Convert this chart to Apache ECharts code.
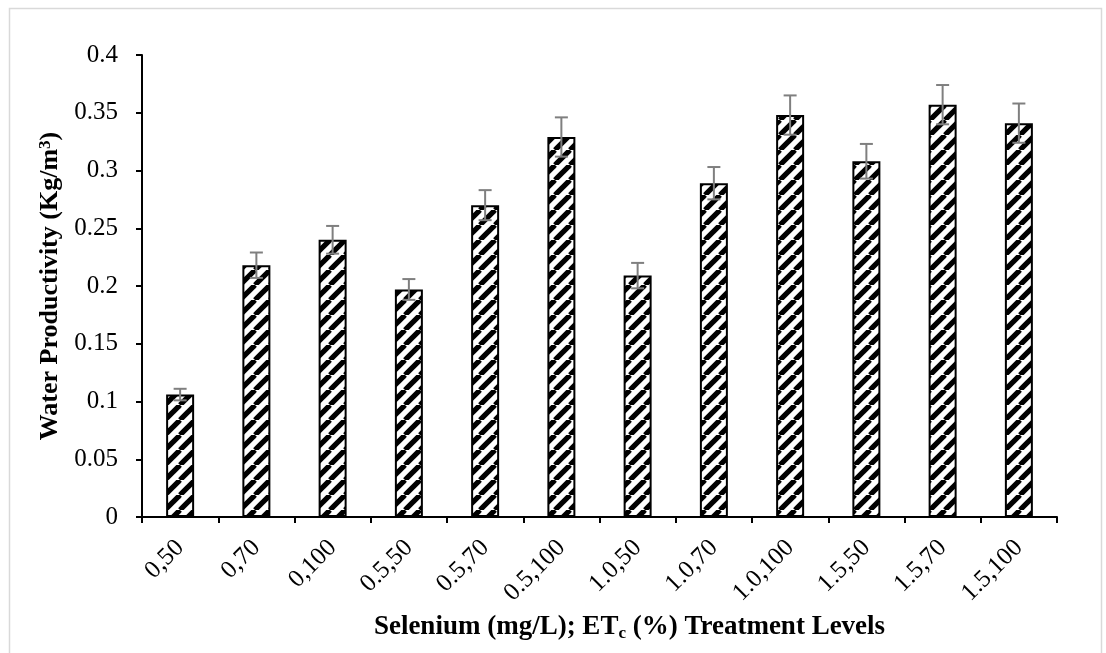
<!DOCTYPE html>
<html>
<head>
<meta charset="utf-8">
<script src="https://cdn.jsdelivr.net/npm/echarts@6/dist/echarts.min.js"></script>
<style>
  html, body { margin: 0; padding: 0; background: #fff; }
  #chart { width: 1106px; height: 653px; }
</style>
</head>
<body>
<div id="chart"></div>
<script>
// Treatment levels: selenium (mg/L), ETc (%)
const categories = ['0,50', '0,70', '0,100', '0.5,50', '0.5,70', '0.5,100',
                    '1.0,50', '1.0,70', '1.0,100', '1.5,50', '1.5,70', '1.5,100'];
// Water productivity (Kg/m3)
const productivity = [0.106, 0.218, 0.240, 0.197, 0.270, 0.329,
                      0.209, 0.289, 0.348, 0.308, 0.357, 0.341];
// Standard error for each treatment
const stdError = [0.005, 0.011, 0.012, 0.009, 0.013, 0.017,
                  0.011, 0.014, 0.017, 0.015, 0.017, 0.017];
const yTicks = { min: 0, max: 0.4, step: 0.05 };

// Diagonal hatch fill for the bars
function hatchPattern() {
  const P = 15;
  const c = document.createElement('canvas');
  c.width = P; c.height = P;
  const ctx = c.getContext('2d');
  ctx.fillStyle = '#fff';
  ctx.fillRect(0, 0, P, P);
  ctx.strokeStyle = '#000';
  ctx.lineWidth = 5.2;
  for (let k = -1; k <= 1; k++) {
    ctx.beginPath();
    ctx.moveTo(k * P, P);
    ctx.lineTo(k * P + P, 0);
    ctx.stroke();
  }
  return c;
}

const FONT = '"Liberation Serif", "Times New Roman", serif';
const chart = echarts.init(document.getElementById('chart'), null, { renderer: 'canvas' });

const errorData = productivity.map((v, i) => [i, v - stdError[i], v + stdError[i]]);

chart.setOption({
  animation: false,
  backgroundColor: '#fff',
  graphic: [{
    type: 'rect',
    left: 7, top: 6,
    shape: { width: 1092, height: 700 },
    style: { fill: 'none', stroke: '#d9d9d9', lineWidth: 1.5 },
    silent: true
  }],
  grid: { left: 142, right: 49, top: 55, bottom: 136, containLabel: false },
  xAxis: {
    type: 'category',
    data: categories,
    boundaryGap: true,
    axisLine: { lineStyle: { color: '#000', width: 2 } },
    axisTick: { show: true, length: 6, lineStyle: { color: '#000', width: 2 } },
    axisLabel: {
      rotate: 45, margin: 27, color: '#000',
      fontFamily: FONT, fontSize: 25, interval: 0
    },
    name: 'Selenium (mg/L); ET{sub|c} (%) Treatment Levels',
    nameLocation: 'middle',
    nameGap: 96,
    nameTextStyle: {
      color: '#000', fontFamily: FONT, fontSize: 27, fontWeight: 'bold',
      padding: [0, 0, 0, 60],
      rich: {
        sub: { fontFamily: FONT, fontSize: 17, fontWeight: 'bold', color: '#000', verticalAlign: 'bottom', padding: [12, 0, 0, 0] }
      }
    }
  },
  yAxis: {
    type: 'value',
    min: yTicks.min, max: yTicks.max, interval: yTicks.step,
    splitLine: { show: false },
    axisLine: { show: true, lineStyle: { color: '#000', width: 2 } },
    axisTick: { show: true, length: 6, lineStyle: { color: '#000', width: 2 } },
    axisLabel: { margin: 24, color: '#000', fontFamily: FONT, fontSize: 25 },
    name: 'Water Productivity (Kg/m{sup|3})',
    nameLocation: 'middle',
    nameGap: 76,
    nameRotate: 90,
    nameTextStyle: {
      color: '#000', fontFamily: FONT, fontSize: 26, fontWeight: 'bold',
      rich: {
        sup: { fontFamily: FONT, fontSize: 17, fontWeight: 'bold', color: '#000', verticalAlign: 'top', padding: [0, 0, 10, 0] }
      }
    }
  },
  series: [
    {
      type: 'bar',
      data: productivity,
      barWidth: 28,
      itemStyle: {
        color: { image: hatchPattern(), repeat: 'repeat' },
        borderColor: '#000',
        borderWidth: 2
      },
      z: 2
    },
    {
      type: 'custom',
      data: errorData,
      encode: { x: 0, y: [1, 2] },
      z: 5,
      renderItem: function (params, api) {
        const lo = api.coord([api.value(0), api.value(1)]);
        const hi = api.coord([api.value(0), api.value(2)]);
        const half = 6.5;
        const style = { stroke: '#7f7f7f', lineWidth: 2 };
        return {
          type: 'group',
          children: [
            { type: 'line', shape: { x1: lo[0], y1: lo[1], x2: hi[0], y2: hi[1] }, style: style },
            { type: 'line', shape: { x1: hi[0] - half, y1: hi[1], x2: hi[0] + half, y2: hi[1] }, style: style },
            { type: 'line', shape: { x1: lo[0] - half, y1: lo[1], x2: lo[0] + half, y2: lo[1] }, style: style }
          ]
        };
      }
    }
  ]
});
</script>
</body>
</html>
